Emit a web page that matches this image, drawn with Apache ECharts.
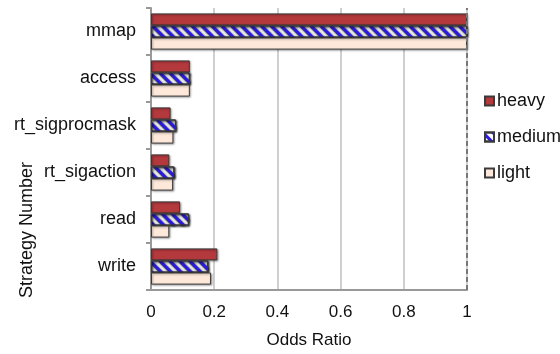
<!DOCTYPE html>
<html><head><meta charset="utf-8">
<script src="https://cdn.jsdelivr.net/npm/echarts@6/dist/echarts.min.js"></script>
<style>html,body{margin:0;padding:0;background:#fff}#c{width:560px;height:354px}</style>
</head><body><div id="c"></div>
<script>
const categories = ['write', 'read', 'rt_sigaction', 'rt_sigprocmask', 'access', 'mmap'];
const heavy  = [0.21, 0.092, 0.058, 0.062, 0.123, 1.0];
const medium = [0.181, 0.12, 0.074, 0.079, 0.123, 1.0];
const light  = [0.19, 0.058, 0.07, 0.071, 0.123, 1.0];
const xTicks = [0, 0.2, 0.4, 0.6, 0.8, 1];

const FONT = 'Liberation Sans, Arial, Helvetica, sans-serif';
const shadow = {shadowBlur: 2, shadowOffsetX: 1, shadowOffsetY: 1, shadowColor: 'rgba(0,0,0,0.35)'};
const chart = echarts.init(document.getElementById('c'), null, {renderer: 'canvas'});
function bar(name, data, style) {
  return {
    name, type: 'bar', data, barGap: '0%', barCategoryGap: '23%',
    itemStyle: Object.assign({borderColor: '#3a3a3a', borderWidth: 1}, shadow, style),
    emphasis: {disabled: true}
  };
}
const sLight = bar('light', light, {color: '#fde8da'});
const sMedium = bar('medium', medium, {
  color: '#ffffff',
  decal: {symbol: 'rect', symbolSize: 1, dashArrayX: [[1, 0]], dashArrayY: [2.6, 3.4], rotation: Math.PI / 4, color: '#2a1bdc'}
});
const sHeavy = bar('heavy', heavy, {color: '#b3393d'});
sLight.markLine = {
  silent: true, symbol: 'none', label: {show: false},
  lineStyle: {type: [5, 3], color: '#777', width: 2},
  data: [{xAxis: 1}]
};
chart.setOption({
  animation: false,
  textStyle: {fontFamily: FONT},
  grid: {left: 151, right: 93, top: 8, bottom: 62},
  legend: {
    orient: 'vertical', left: 479, top: 87, itemWidth: 9, itemHeight: 9, itemGap: 18,
    icon: 'rect', data: ['heavy', 'medium', 'light'],
    textStyle: {fontSize: 18, color: '#111', fontFamily: FONT, padding: [0, 0, 0, -2]}
  },
  graphic: [{
    type: 'text', left: 18, top: 162, rotation: Math.PI / 2,
    style: {text: 'Strategy Number', fontSize: 18, fill: '#111', fontFamily: FONT}
  }],
  xAxis: {
    type: 'value', min: 0, max: 1, interval: 0.2,
    name: 'Odds Ratio', nameLocation: 'middle', nameGap: 42,
    nameTextStyle: {fontSize: 17, color: '#111'},
    axisLine: {show: true, lineStyle: {color: '#999', width: 2}},
    axisTick: {show: false},
    axisLabel: {fontSize: 17, color: '#111', margin: 14, formatter: v => xTicks.includes(Math.round(v * 10) / 10) ? String(Math.round(v * 10) / 10) : ''},
    splitLine: {show: true, lineStyle: {color: '#cfcfcf', width: 2}}
  },
  yAxis: {
    type: 'category', data: categories,
    axisLine: {show: true, lineStyle: {color: '#999', width: 2}},
    axisTick: {show: true, length: 5, lineStyle: {color: '#999', width: 2}},
    axisLabel: {fontSize: 18, color: '#111', margin: 15}
  },
  series: [sHeavy, sMedium, sLight]
});
</script></body></html>
